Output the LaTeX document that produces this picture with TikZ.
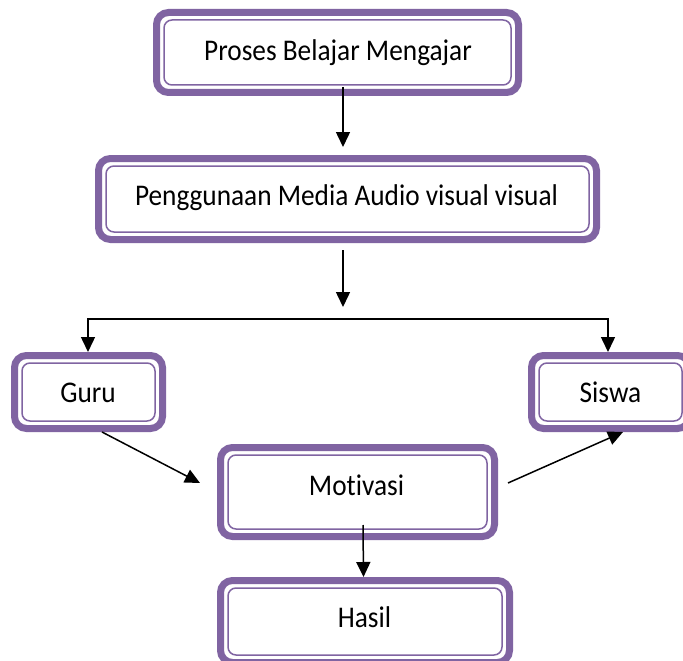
\documentclass[tikz,border=0pt]{standalone}
\usepackage{fontspec}
\setmainfont{Carlito}[Ligatures=CommonOff]
\usetikzlibrary{arrows.meta}
\definecolor{boxpurple}{HTML}{8064A2}
\tikzset{
  outerbox/.style={draw=boxpurple,line width=7pt,rounded corners=12pt,inner sep=0pt,fill=white},
  innerbox/.style={draw=boxpurple,line width=1.5pt,rounded corners=8pt},
  lbl/.style={anchor=base,inner sep=0pt,font=\fontsize{27.3}{33}\selectfont},
  arr/.style={draw=black,line width=1.5pt,-{Triangle[length=15pt,width=14pt]}}
}
\newcommand\tx[1]{\scalebox{1}[1.1]{#1}}
\newcommand\pbox[5]{%
  \pgfmathsetmacro\pcx{(#2+#4)/2}\pgfmathsetmacro\pcy{(#3+#5)/2}%
  \pgfmathsetmacro\pww{#4-#2-7}\pgfmathsetmacro\phh{#5-#3-7}%
  \node[outerbox,minimum width=\pww pt,minimum height=\phh pt] (#1) at (\pcx,\pcy) {};
  \draw[innerbox] ([xshift=11pt,yshift=-11pt]#1.north west) rectangle ([xshift=-11pt,yshift=11pt]#1.south east);%
}
\begin{document}
\begin{tikzpicture}[x=1pt,y=-1pt]
\useasboundingbox (0,0) rectangle (683,661);
\clip (0,0) rectangle (683,661);
\fill[white] (0,0) rectangle (683,661);
% boxes
\pbox{b1}{153}{9}{522}{96}
\pbox{b2}{95}{155}{600}{243}
\pbox{guru}{11}{352}{166}{432}
\pbox{siswa}{528}{352}{693}{432}
\pbox{mot}{217}{444}{498}{540}
\pbox{hasil}{217}{577}{513}{666}
% labels
\node[lbl] (t1) at (338,61) {\tx{Proses Belajar Mengajar}};
\node[lbl] (t2) at (346.5,205) {\tx{Penggunaan Media Audio visual visual}};
\node[lbl] (t3) at (88,402) {\tx{Guru}};
\node[lbl] (t4) at (610.5,402) {\tx{Siswa}};
\node[lbl] (t5) at (356.5,495) {\tx{Motivasi}};
\node[lbl] (t6) at (364.5,627) {\tx{Hasil}};
% connectors
\coordinate (sp) at (343,319);
\coordinate (t2tip) at (343,307);
\draw[arr] ([xshift=5.5pt,yshift=9pt]b1.south) -- ([xshift=-4.5pt,yshift=8pt]b2.north);
\draw[arr] ([xshift=-4.5pt,yshift=-7pt]b2.south) -- (t2tip);
\draw[arr] (sp) -| ([xshift=-0.5pt]guru.north);
\draw[arr] (sp) -| ([xshift=-2.5pt]siswa.north);
\draw[arr] ([xshift=13.5pt]guru.south) -- ([xshift=-17pt,yshift=9pt]mot.west);
\draw[arr] ([xshift=10pt,yshift=9pt]mot.east) -- ([xshift=12.5pt]siswa.south);
\draw[arr] ([xshift=5.5pt,yshift=15pt]mot.south) -- ([xshift=-1.5pt]hasil.north);
\end{tikzpicture}
\end{document}
